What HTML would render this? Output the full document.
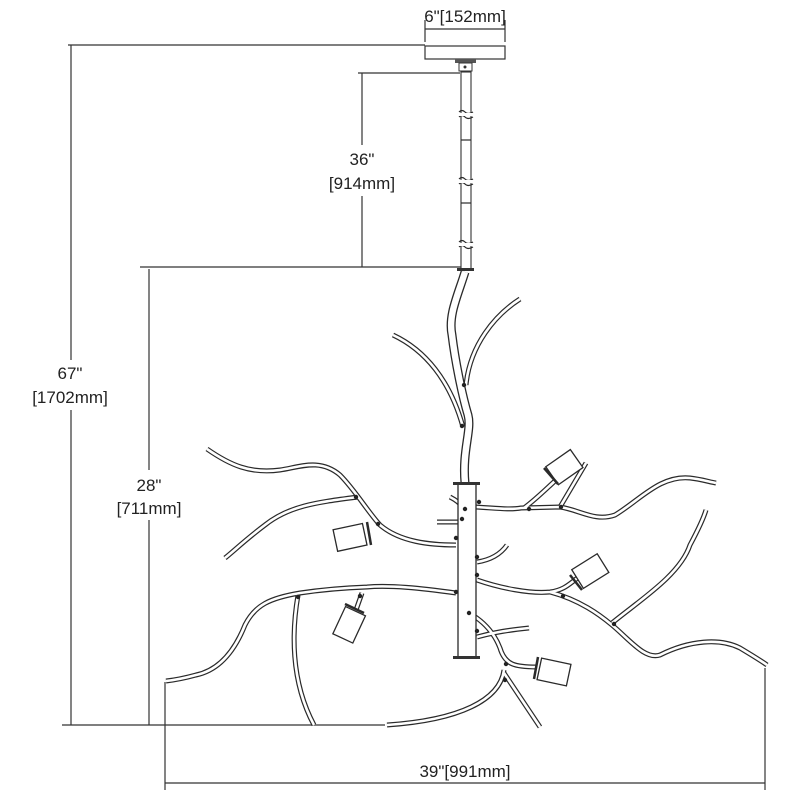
<!DOCTYPE html>
<html><head><meta charset="utf-8"><style>
html,body{margin:0;padding:0;background:#fff}
svg{display:block}
text{font-family:"Liberation Sans",sans-serif;font-size:17px;fill:#222}
.d{stroke:#333;stroke-width:1.2;fill:none}
.to{stroke:#2a2a2a;stroke-width:5;fill:none}
.ti{stroke:#fff;stroke-width:2.6;fill:none}
.th{stroke:#2a2a2a;stroke-width:1.2;fill:none}
</style></head><body>
<svg width="800" height="800" viewBox="0 0 800 800" xmlns="http://www.w3.org/2000/svg">
<defs>
<g id="tubes" fill="none">
<path d="M393,335 C425,350 450,380 463,427"/>
<path d="M520,299 C495,315 470,345 466,385"/>
<path d="M207,449 C230,465 250,474 280,470 C300,467 320,458 340,475 C355,490 368,512 380,525 C400,542 430,545 456,545"/>
<path d="M358,497 C320,502 290,505 265,525 C245,540 235,550 225,558"/>
<path d="M450,497 C458,501 462,505 465,510"/>
<path d="M437,522 L461,522"/>
<path d="M477,562 C490,560 500,555 507,545"/>
<path d="M475,507 C495,508 510,510 521,508 L560,507 C580,510 595,522 615,515 C640,500 660,475 690,478 C700,479 710,482 716,483"/>
<path d="M524,508 C535,500 545,490 556,480"/>
<path d="M560,507 L586,463"/>
<path d="M477,580 C500,588 530,594 550,592 C565,590 570,583 579,577"/>
<path d="M550,592 C580,600 600,615 612,625 C630,640 645,660 660,655 C690,640 720,638 740,648 C750,654 760,660 767,665"/>
<path d="M612,623 C640,600 680,575 690,545 C698,530 703,520 706,510"/>
<path d="M456,593 C420,588 390,585 367,587 C340,588 320,590 300,593 C270,598 255,605 245,625 C235,650 220,670 196,675 C185,678 175,680 166,681"/>
<path d="M298,595 C292,630 290,680 314,725"/>
<path d="M362,593 L356,610"/>
<path d="M469,613 C485,622 495,635 500,648 C505,665 515,667 537,667"/>
<path d="M504,670 C500,700 460,720 387,725"/>
<path d="M504,673 L540,727"/>
<path d="M477,637 C495,632 510,630 529,628"/>
</g>
<path id="stem" fill="none" d="M465,272 C458,295 448,315 452,335 C455,360 462,395 468,415 C472,430 462,450 465,483"/>
</defs>
<g class="d">
<line x1="68" y1="45" x2="425" y2="45"/>
<line x1="71" y1="45" x2="71" y2="360"/>
<line x1="71" y1="410" x2="71" y2="725"/>
<line x1="62" y1="725" x2="385" y2="725"/>
<line x1="358" y1="73" x2="460" y2="73"/>
<line x1="362" y1="73" x2="362" y2="145"/>
<line x1="362" y1="196" x2="362" y2="267"/>
<line x1="140" y1="267" x2="461" y2="267"/>
<line x1="149" y1="269" x2="149" y2="470"/>
<line x1="149" y1="520" x2="149" y2="725"/>
<line x1="425" y1="20" x2="425" y2="42"/>
<line x1="505" y1="20" x2="505" y2="42"/>
<line x1="425" y1="29" x2="505" y2="29"/>
<line x1="165" y1="682" x2="165" y2="790"/>
<line x1="765" y1="668" x2="765" y2="790"/>
<line x1="165" y1="783" x2="765" y2="783"/>
</g>
<text x="465" y="22" text-anchor="middle" font-size="16">6"[152mm]</text>
<text x="362" y="165" text-anchor="middle">36"</text>
<text x="362" y="189" text-anchor="middle">[914mm]</text>
<text x="70" y="379" text-anchor="middle">67"</text>
<text x="70" y="403" text-anchor="middle">[1702mm]</text>
<text x="149" y="491" text-anchor="middle">28"</text>
<text x="149" y="514" text-anchor="middle">[711mm]</text>
<text x="465" y="777" text-anchor="middle">39"[991mm]</text>
<rect x="425" y="46" width="80" height="13" fill="#fff" stroke="#333" stroke-width="1.2"/>
<rect x="455" y="59" width="21" height="4" fill="#555"/>
<rect x="459" y="63" width="13" height="8" fill="#fff" stroke="#333"/>
<circle cx="465" cy="67" r="1.5" fill="#333"/>
<rect x="461" y="72" width="10" height="197" fill="#fff" stroke="#333" stroke-width="1.1"/>
<g class="th">
<path d="M459,112 q3,-3 6,0 t8,0"/><path d="M459,117 q3,-3 6,0 t8,0"/>
<path d="M459,179 q3,-3 6,0 t8,0"/><path d="M459,184 q3,-3 6,0 t8,0"/>
<path d="M459,242 q3,-3 6,0 t8,0"/><path d="M459,247 q3,-3 6,0 t8,0"/>
<line x1="461" y1="140" x2="471" y2="140"/><line x1="461" y1="203" x2="471" y2="203"/>
</g>
<rect x="459" y="113" width="14" height="3" fill="#fff"/>
<rect x="459" y="180" width="14" height="3" fill="#fff"/>
<rect x="459" y="243" width="14" height="3" fill="#fff"/>
<rect x="457" y="268" width="17" height="3" fill="#333"/>
<use href="#tubes" class="to"/>
<use href="#tubes" class="ti"/>
<use href="#stem" stroke="#2a2a2a" stroke-width="9" fill="none"/>
<use href="#stem" stroke="#fff" stroke-width="6.4" fill="none"/>
<rect x="458" y="484" width="18" height="173" fill="#fff" stroke="#2a2a2a" stroke-width="1.3"/>
<rect x="453" y="482" width="27" height="3" fill="#333"/>
<rect x="453" y="656" width="27" height="3" fill="#333"/>
<g fill="#fff" stroke="#2a2a2a" stroke-width="1.3">
<rect x="-17" y="-11" width="30" height="22" transform="translate(352,537) rotate(-12)"/>
<rect x="-17" y="-11" width="30" height="22" transform="translate(566,466) rotate(-35)"/>
<rect x="-17" y="-11" width="30" height="22" transform="translate(592,570) rotate(-32)"/>
<rect x="-17" y="-11" width="30" height="22" transform="translate(350,623) rotate(-65)"/>
<rect x="-15" y="-11" width="30" height="22" transform="translate(554,672) rotate(12)"/>
</g>
<g stroke="#2a2a2a" stroke-width="2.5">
<line x1="367" y1="522" x2="371" y2="545"/>
<line x1="544" y1="468" x2="558" y2="484"/>
<line x1="570" y1="575" x2="582" y2="590"/>
<line x1="345" y1="604" x2="364" y2="613"/>
<line x1="538" y1="657" x2="534" y2="679"/>
</g>
<g fill="#222">
<circle cx="464" cy="385" r="2.2"/><circle cx="462" cy="426" r="2.2"/>
<circle cx="356" cy="497" r="2.2"/><circle cx="378" cy="524" r="2.2"/>
<circle cx="456" cy="538" r="2.2"/><circle cx="462" cy="519" r="2.2"/><circle cx="465" cy="509" r="2.2"/>
<circle cx="479" cy="502" r="2.2"/><circle cx="529" cy="509" r="2.2"/><circle cx="561" cy="507" r="2.2"/>
<circle cx="477" cy="557" r="2.2"/><circle cx="477" cy="575" r="2.2"/><circle cx="563" cy="596" r="2.2"/>
<circle cx="614" cy="624" r="2.2"/><circle cx="456" cy="592" r="2.2"/><circle cx="298" cy="597" r="2.2"/>
<circle cx="360" cy="596" r="2.2"/><circle cx="469" cy="613" r="2.2"/><circle cx="477" cy="631" r="2.2"/>
<circle cx="506" cy="664" r="2.2"/><circle cx="505" cy="680" r="2.2"/>
</g>
</svg>
</body></html>
